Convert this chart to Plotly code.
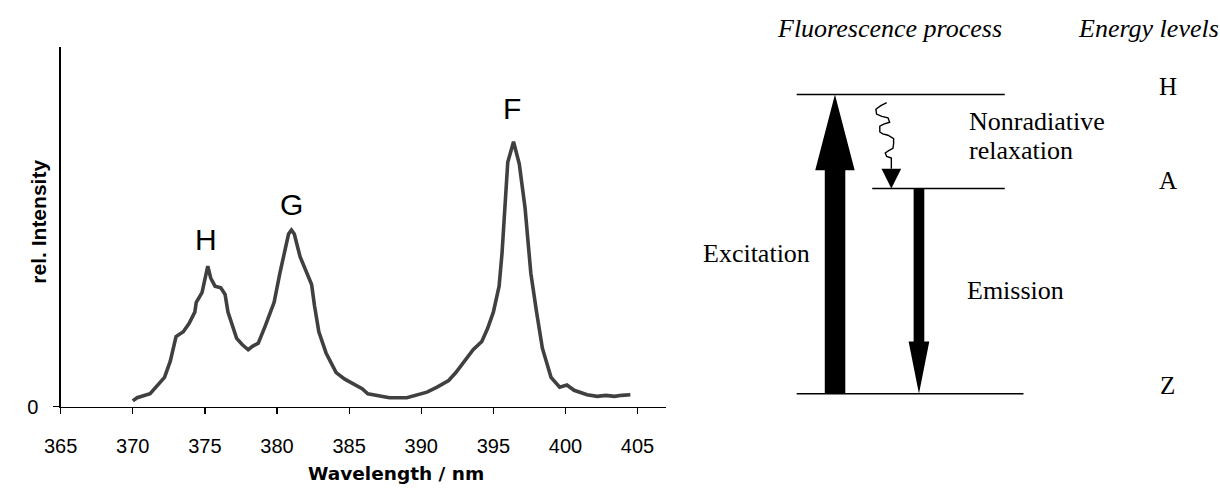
import plotly.graph_objects as go

# ---------------- spectrum data ----------------
wavelength_nm = [370.0, 370.3, 371.2, 371.6, 372.2, 372.6, 373.0, 373.5, 373.9, 374.3,
                 374.4, 374.8, 375.0, 375.2, 375.4, 375.7, 376.1, 376.4, 376.6, 376.9,
                 377.2, 377.6, 378.0, 378.3, 378.7, 379.2, 379.8, 380.2, 380.6, 380.8,
                 381.0, 381.2, 381.6, 382.1, 382.4, 382.6, 382.9, 383.4, 384.1, 384.7,
                 385.3, 385.9, 386.3, 387.3, 387.8, 389.0, 389.6, 390.4, 391.1, 391.9,
                 392.4, 393.0, 393.6, 394.2, 394.6, 395.0, 395.4, 395.6, 395.8, 396.0,
                 396.4, 396.8, 397.2, 397.6, 398.0, 398.4, 399.0, 399.6, 400.1, 400.6,
                 401.5, 402.2, 402.8, 403.4, 403.9, 404.5]
rel_intensity = [2.2, 3.4, 4.9, 7.4, 11.1, 17.2, 26.5, 28.3, 31.4, 35.7,
                 39.4, 43.1, 48.0, 53.1, 48.6, 45.5, 44.9, 42.4, 35.7, 30.7,
                 25.8, 23.4, 21.5, 22.8, 24.0, 30.7, 39.4, 50.4, 60.3, 65.2,
                 66.7, 65.2, 56.6, 50.4, 46.1, 38.1, 28.3, 20.3, 12.9, 10.4,
                 8.6, 6.8, 4.9, 3.9, 3.4, 3.4, 4.3, 5.5, 7.4, 9.9,
                 12.9, 17.2, 21.5, 24.6, 29.5, 35.7, 45.5, 57.8, 77.5, 92.3,
                 100.0, 91.6, 75.0, 50.4, 35.7, 22.1, 11.1, 7.4, 8.2, 6.2,
                 4.5, 3.9, 4.3, 3.9, 4.3, 4.5]

x_ticks = [365, 370, 375, 380, 385, 390, 395, 400, 405]
y_ticks = [0]
y_ticktext = ["0"]

peak_labels = ["H", "G", "F"]
peak_label_x = [375.05, 380.97, 396.27]
peak_label_y = [63.3, 76.2, 112.5]

# ---------------- diagram content ----------------
level_names = ["H", "A", "Z"]
level_y = [96.7, 192.7, 402.7]          # diagram units (pixels, top-down)
level_x0 = [790.7, 867.3, 790.7]
level_x1 = [1001.7, 1001.7, 1020.7]

W, H = 1220, 494
SANS = "Liberation Sans, Arial, sans-serif"
SERIF = "Liberation Serif, Times New Roman, serif"

fig = go.Figure()

fig.add_trace(go.Scatter(
    x=wavelength_nm, y=rel_intensity, mode="lines",
    line=dict(color="#404040", width=3.6), xaxis="x", yaxis="y",
    showlegend=False, hoverinfo="skip"))

# axis geometry (pixels)
px_left, px_right = 44.3, 657.7
px_top, px_bottom = 48.0, 416.0

axis_common = dict(showgrid=False, zeroline=False, showline=True,
                   linecolor="black", linewidth=1.2, tickcolor="black",
                   tickwidth=1.2, ticklen=6)

fig.update_layout(
    width=W, height=H,
    margin=dict(l=0, r=0, t=0, b=0),
    paper_bgcolor="white", plot_bgcolor="white",
    showlegend=False,
    xaxis=dict(domain=[px_left / W, px_right / W], range=[365, 406.94],
               tickvals=x_ticks, ticks="outside", anchor="y",
               tickfont=dict(family=SANS, size=20, color="black"),
               ticklabelstandoff=15, **axis_common),
    xaxis2=dict(domain=[px_left / W, px_right / W], range=[365, 406.94],
                tickvals=x_ticks, ticks="inside", anchor="y", overlaying="x",
                showticklabels=False, side="bottom", **axis_common),
    yaxis=dict(domain=[(H - px_bottom) / H, (H - px_top) / H], range=[0, 135.8],
               tickvals=y_ticks, ticktext=y_ticktext, ticks="outside", anchor="x",
               tickfont=dict(family=SANS, size=20, color="black"),
               ticklabelstandoff=11, **axis_common),
    xaxis3=dict(domain=[660 / W, 1.0], range=[660, 1220], visible=False, anchor="y3"),
    yaxis3=dict(domain=[0, 1], range=[494, 0], visible=False, anchor="x3"),
)

annotations = []
for t, x, y in zip(peak_labels, peak_label_x, peak_label_y):
    annotations.append(dict(text=t, x=x, y=y, xref="x", yref="y", showarrow=False,
                            xanchor="center", yanchor="middle",
                            font=dict(family=SANS, size=30, color="black")))

annotations.append(dict(text="<b>Wavelength / nm</b>", x=384.7 / W, y=(H - 484) / H,
                        xref="paper", yref="paper", showarrow=False,
                        xanchor="center", yanchor="middle",
                        font=dict(family="DejaVu Sans, sans-serif", size=18.5,
                                  color="black")))
annotations.append(dict(text="<b>rel. Intensity</b>", x=22 / W, y=(H - 227) / H,
                        xref="paper", yref="paper", showarrow=False, textangle=-90,
                        xanchor="center", yanchor="middle",
                        font=dict(family=SANS, size=21, color="black")))

# diagram texts
def dtext(t, x, y, size=26, italic=False, xanchor="center"):
    s = f"<i>{t}</i>" if italic else t
    annotations.append(dict(text=s, x=x, y=y, xref="x3", yref="y3", showarrow=False,
                            xanchor=xanchor, yanchor="middle",
                            font=dict(family=SERIF, size=size, color="black")))

dtext("Fluorescence process", 885, 29, italic=True)
dtext("Energy levels", 1147, 29, italic=True)
for name, ly in zip(level_names, level_y):
    dtext(name, 1167, ly - 8, size=25)
dtext("Nonradiative", 963, 124, xanchor="left")
dtext("relaxation", 963, 154, xanchor="left")
dtext("Excitation", 694, 259, xanchor="left")
dtext("Emission", 961, 297, xanchor="left")

fig.update_layout(annotations=annotations)

shapes = []
for x0, x1, y in zip(level_x0, level_x1, level_y):
    shapes.append(dict(type="line", xref="x3", yref="y3", x0=x0, x1=x1, y0=y, y1=y,
                       line=dict(color="black", width=1.5)))

yH, yA, yZ = level_y

def poly(pts):
    return "M " + " L ".join(f"{px},{py}" for px, py in pts) + " Z"

# Excitation arrow (up, thick)
exc_cx = 829.5
shapes.append(dict(type="path", xref="x3", yref="y3", fillcolor="black",
                   line=dict(width=0),
                   path=poly([(exc_cx - 10.3, yZ), (exc_cx + 10.5, yZ), (exc_cx + 10.5, 174),
                              (exc_cx + 20, 174), (exc_cx, yH), (exc_cx - 20, 174),
                              (exc_cx - 10.3, 174)])))
# Emission arrow (down)
em_cx = 914.7
shapes.append(dict(type="path", xref="x3", yref="y3", fillcolor="black",
                   line=dict(width=0),
                   path=poly([(em_cx - 5.4, yA), (em_cx + 5.4, yA), (em_cx + 5.4, 349.3),
                              (em_cx + 10.5, 349.3), (em_cx, yZ), (em_cx - 10.5, 349.3),
                              (em_cx - 5.4, 349.3)])))
# Wavy nonradiative arrow
wave = [(882, 105), (876, 108), (871, 111.7), (871.7, 116.7), (877, 119), (883.3, 120.5),
        (885, 125), (879, 127), (875, 129), (875, 135), (878, 137), (883.3, 138.3),
        (889, 141.7), (889, 147), (888.3, 151.7), (884, 154), (880.5, 156.5),
        (882, 160), (886.7, 161.7), (886.7, 172.7)]
shapes.append(dict(type="path", xref="x3", yref="y3",
                   line=dict(color="black", width=1.4),
                   path="M " + " L ".join(f"{px},{py}" for px, py in wave)))
shapes.append(dict(type="path", xref="x3", yref="y3", fillcolor="black",
                   line=dict(width=0),
                   path=poly([(876.7, 172.7), (896.7, 172.7), (886.7, yA)])))

fig.update_layout(shapes=shapes)

fig.write_html("out.html",
               config={"displayModeBar": False, "staticPlot": True},
               post_script="document.body.style.margin='0';"
                           "document.body.style.overflow='hidden';")
